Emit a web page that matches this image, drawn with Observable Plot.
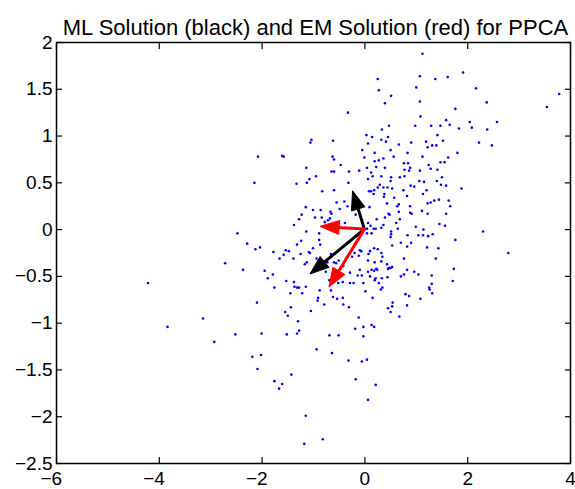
<!DOCTYPE html>
<html>
<head>
<meta charset="utf-8">
<script src="https://cdn.jsdelivr.net/npm/d3@7"></script>
<script src="https://cdn.jsdelivr.net/npm/@observablehq/plot@0.6"></script>
<style>
  body { margin: 0; background: #fff; }
  #chart svg { display: block; }
</style>
</head>
<body>
<div id="chart"></div>
<script>
const titleText = "ML Solution (black) and EM Solution (red) for PPCA";
const xTicks = [-6, -4, -2, 0, 2, 4];
const yTicks = [-2.5, -2, -1.5, -1, -0.5, 0, 0.5, 1, 1.5, 2];

// principal directions from the two fits, drawn from the origin
const mlDirections = [[-0.23, 0.41], [-1.06, -0.48]];
const emDirections = [[-0.86, 0.03], [-0.69, -0.62]];

// observed 2-D samples [x, y]
const samples = [
  [1.12,1.88],[0.25,1.61],[0.27,1.49],[0.51,1.43],[0.39,1.35],[-0.33,1.25],[1.07,1.64],[1.37,1.61],[1.61,1.63],[1.91,1.68],
  [1.00,1.52],[1.07,1.37],[2.16,1.51],[2.37,1.36],[3.78,1.45],[3.54,1.31],[1.76,1.29],[1.08,1.21],[1.58,1.17],[1.65,1.12],
  [2.04,1.15],[2.08,1.09],[2.57,1.15],[2.38,1.07],[1.83,1.08],[1.47,1.11],[1.29,1.11],[0.98,1.11],[0.47,1.11],[0.33,1.07],
  [0.03,1.01],[0.14,0.99],[0.32,0.96],[0.45,0.99],[0.41,0.94],[1.41,1.01],[1.52,0.95],[1.39,0.90],[1.31,0.90],[1.22,0.88],
  [1.19,0.94],[0.90,0.93],[0.66,0.91],[0.06,0.92],[-0.05,0.85],[0.19,0.82],[0.50,0.85],[2.22,0.93],[2.47,0.90],[1.80,0.82],
  [1.62,0.77],[1.55,0.72],[1.47,0.72],[1.12,0.78],[0.83,0.82],[0.56,0.78],[0.36,0.76],[0.27,0.74],[0.19,0.73],[-0.01,0.77],
  [-1.04,0.96],[-1.06,0.93],[-0.62,0.95],[-2.08,0.78],[-1.61,0.79],[-1.58,0.78],[-0.63,0.78],[-0.60,0.75],[-0.47,0.69],[-1.14,0.66],
  [-0.65,0.62],[-0.60,0.62],[-0.31,0.62],[-0.11,0.63],[0.04,0.66],[0.22,0.67],[0.39,0.66],[0.76,0.71],[0.84,0.71],[0.88,0.66],
  [0.86,0.63],[0.77,0.64],[1.07,0.63],[1.24,0.69],[1.28,0.65],[1.41,0.64],[-1.08,0.54],[-0.95,0.57],[-1.13,0.50],[-1.33,0.49],
  [-2.15,0.50],[-0.32,0.50],[0.15,0.57],[0.06,0.54],[0.51,0.56],[0.50,0.52],[0.68,0.56],[0.77,0.57],[1.06,0.52],[1.15,0.51],
  [1.40,0.52],[1.50,0.56],[1.48,0.48],[1.58,0.47],[1.88,0.44],[0.89,0.47],[0.96,0.46],[0.29,0.48],[0.36,0.45],[0.44,0.45],
  [0.53,0.44],[0.25,0.45],[0.18,0.42],[0.12,0.41],[0.08,0.41],[0.17,0.38],[0.38,0.38],[0.37,0.35],[0.57,0.34],[0.82,0.36],
  [0.75,0.42],[1.20,0.42],[1.13,0.38],[1.44,0.32],[1.35,0.31],[1.28,0.29],[1.22,0.28],[1.63,0.31],[1.66,0.25],[1.58,0.17],
  [1.45,0.06],[1.56,0.04],[1.76,-0.11],[2.30,-0.02],[1.32,-0.05],[1.23,-0.07],[1.13,-0.06],[1.04,-0.06],[0.83,-0.06],[0.99,0.03],
  [0.64,0.01],[0.68,0.11],[0.66,0.19],[0.63,0.25],[0.66,0.27],[0.88,0.25],[0.88,0.18],[0.91,0.17],[1.11,0.20],[1.22,0.17],
  [0.46,0.17],[0.48,0.16],[0.39,0.13],[0.23,0.11],[0.61,0.07],[0.36,0.05],[0.32,0.02],[0.21,0.01],[0.51,-0.02],[0.51,-0.05],
  [0.43,0.28],[0.09,0.24],[-0.55,0.29],[-0.40,0.30],[-0.34,0.25],[-0.21,0.26],[-0.18,0.16],[-0.49,0.22],[-0.67,0.19],[-0.65,0.17],
  [-0.83,0.41],[-0.60,0.42],[-1.15,0.24],[-1.01,0.21],[-0.86,0.21],[-1.23,0.16],[-1.28,0.11],[-1.38,0.05],[-0.97,0.13],[-0.84,0.13],
  [-0.78,0.08],[-0.72,0.10],[-0.68,0.12],[-0.39,0.07],[-0.52,0.06],[-1.14,-0.02],[-0.89,-0.04],[-2.48,-0.04],[-1.24,-0.12],[-0.89,-0.11],
  [0.06,0.07],[0.11,0.04],[0.17,0.01],[0.13,-0.04],[0.04,-0.04],[0.04,0.01],[0.12,0.61],[0.32,0.57],[0.50,-0.08],[1.14,0.00],
  [-2.29,-0.15],[-2.13,-0.21],[-2.04,-0.19],[-2.72,-0.36],[-2.37,-0.43],[-4.22,-0.57],[-1.78,-0.24],[-1.54,-0.22],[-1.48,-0.23],[-1.58,-0.27],
  [-1.66,-0.31],[-1.39,-0.31],[-1.25,-0.26],[-1.32,-0.16],[-1.09,-0.24],[-1.07,-0.25],[-1.01,-0.20],[-0.87,-0.16],[-0.94,-0.31],[-1.17,-0.37],
  [-1.13,-0.35],[-1.95,-0.44],[-1.79,-0.48],[-1.89,-0.52],[-1.53,-0.55],[-1.38,-0.56],[-1.37,-0.61],[-1.32,-0.62],[-1.28,-0.62],[-1.15,-0.61],
  [-1.22,-0.68],[-1.45,-0.68],[-1.76,-0.62],[-2.10,-0.78],[-1.44,-0.83],[-1.55,-0.88],[-1.50,-0.92],[-1.30,-0.98],[-1.28,-1.08],[-1.32,-1.11],
  [-1.52,-1.12],[-2.01,-1.11],[-2.52,-1.12],[-2.93,-1.20],[-3.15,-0.95],[-3.84,-1.04],[-2.19,-1.36],[-2.02,-1.34],[-2.09,-1.49],[-1.76,-1.62],
  [-1.61,-1.65],[-1.67,-1.70],[-1.43,-1.55],[-1.15,-1.99],[-1.18,-2.29],[-0.82,-2.24],[-1.05,-0.87],[-0.94,-1.28],[-0.91,-0.73],[-0.88,-0.65],
  [-0.92,-0.76],[-0.79,-0.80],[-0.66,-0.65],[-0.69,-0.54],[-0.76,-0.45],[-0.62,-0.72],[-0.54,-0.74],[-0.43,-0.73],[-0.42,-0.80],[-0.31,-0.83],
  [-0.69,-1.13],[-0.51,-1.13],[-0.64,-1.32],[-0.32,-1.40],[-0.06,-1.41],[0.04,-1.39],[-0.18,-1.60],[0.21,-1.66],[0.06,-1.82],[-0.19,-1.06],
  [-0.03,-1.04],[-0.03,-1.14],[0.13,-1.02],[0.18,-1.04],[-0.12,-0.94],[-0.43,-0.56],[-0.29,-0.57],[-0.22,-0.57],[-0.03,-0.57],[0.01,-0.66],
  [0.15,-0.73],[0.31,-0.64],[0.34,-0.62],[0.27,-0.57],[0.19,-0.54],[0.21,-0.52],[0.10,-0.50],[0.18,-0.44],[0.22,-0.42],[0.13,-0.43],
  [0.06,-0.45],[0.24,-0.43],[-0.06,-0.49],[-0.10,-0.43],[-0.14,-0.49],[-0.29,-0.46],[-0.52,-0.57],[-0.42,-0.39],[-0.56,-0.36],[-0.51,-0.33],
  [-0.66,-0.26],[-0.60,-0.35],[-0.73,-0.35],[-0.25,-0.29],[-0.20,-0.25],[-0.12,-0.28],[-0.07,-0.23],[-0.10,-0.22],[0.06,-0.33],[0.19,-0.35],
  [0.07,-0.26],[0.10,-0.23],[0.18,-0.20],[0.25,-0.21],[0.32,-0.25],[0.34,-0.29],[0.32,-0.34],[0.43,-0.37],[0.45,-0.42],[0.47,-0.41],
  [0.53,-0.40],[0.44,-0.51],[0.33,-0.52],[0.54,-0.78],[0.53,-0.82],[0.45,-0.84],[0.50,-0.88],[0.67,-0.93],
  [0.70,-0.14],[0.90,-0.14],[0.82,-0.18],[0.53,-0.17],[1.21,-0.19],[1.43,-0.20],[2.79,-0.25],[1.38,-0.31],[0.76,-0.31],[0.50,-0.41],
  [0.82,-0.43],[0.96,-0.45],[1.04,-0.48],[0.76,-0.48],[0.70,-0.50],[1.30,-0.49],[1.73,-0.42],[1.71,-0.55],[1.30,-0.58],[1.25,-0.62],
  [1.26,-0.64],[1.31,-0.68],[1.08,-0.74],[0.79,-0.69],[0.86,-0.71],[0.82,-0.81]
];

const FONT = '"Liberation Sans", Arial, Helvetica, sans-serif';
const minus = (s) => s.replace("-", "\u2212");
// x labels: the digits sit centred on the tick, the minus sign hangs to the left
const fmtX = (d) => d < 0 ? "\u2212" + Math.abs(d) + "\u2007" : String(d);
const fmtY = (d) => minus(String(d));
const blank = () => "";

const chart = Plot.plot({
  width: 575,
  height: 489,
  marginLeft: 56,
  marginRight: 5,
  marginTop: 42,
  marginBottom: 26,
  style: { fontFamily: FONT, fontSize: "19px", color: "black", background: "white", overflow: "visible" },
  x: { domain: [-6, 4] },
  y: { domain: [-2.5, 2] },
  marks: [
    Plot.dot(samples, { x: (d) => d[0], y: (d) => d[1], r: 1.3, fill: "#0000ff", stroke: null }),
    // inward tick marks on all four sides
    Plot.axisX(xTicks, { anchor: "bottom", tickSize: -6, tickFormat: blank, label: null, strokeWidth: 1.2 }),
    Plot.axisX(xTicks, { anchor: "top", tickSize: -6, tickFormat: blank, label: null, strokeWidth: 1.2 }),
    Plot.axisY(yTicks, { anchor: "left", tickSize: -6, tickFormat: blank, label: null, strokeWidth: 1.2 }),
    Plot.axisY(yTicks, { anchor: "right", tickSize: -6, tickFormat: blank, label: null, strokeWidth: 1.2 }),
    // tick labels
    Plot.axisX(xTicks, { anchor: "bottom", tickSize: 0, tickPadding: 8, tickFormat: fmtX, label: null, fontSize: 19 }),
    Plot.axisY(yTicks, { anchor: "left", tickSize: 0, tickPadding: 4, tickFormat: fmtY, label: null, fontSize: 19 }),
    Plot.frame({ stroke: "black", strokeWidth: 1.5 }),
    Plot.text([titleText], { frameAnchor: "top", dy: -23, dx: 2, fontSize: 22, text: (d) => d, fill: "black" })
  ]
});

// quiver-style arrows with filled heads, positioned through the plot's scales
const sx = chart.scale("x");
const sy = chart.scale("y");
const arrows = d3.select(chart).append("g").attr("class", "arrows");
function drawArrow(v, color) {
  const x0 = sx.apply(0), y0 = sy.apply(0);
  const x1 = sx.apply(v[0]), y1 = sy.apply(v[1]);
  const dx = x1 - x0, dy = y1 - y0, len = Math.hypot(dx, dy);
  const ux = dx / len, uy = dy / len;
  const headLen = 19, headHalf = 7;
  const bx = x1 - ux * headLen, by = y1 - uy * headLen;
  arrows.append("line")
    .attr("x1", x0).attr("y1", y0).attr("x2", bx + ux * 2).attr("y2", by + uy * 2)
    .attr("stroke", color).attr("stroke-width", 3).attr("stroke-linecap", "round");
  arrows.append("path")
    .attr("d", `M${x1},${y1}L${bx - uy * headHalf},${by + ux * headHalf}L${bx + uy * headHalf},${by - ux * headHalf}Z`)
    .attr("fill", color).attr("stroke", color).attr("stroke-width", 1).attr("stroke-linejoin", "miter");
}
mlDirections.forEach((v) => drawArrow(v, "black"));
emDirections.forEach((v) => drawArrow(v, "#ff0000"));

document.getElementById("chart").appendChild(chart);
</script>
</body>
</html>
